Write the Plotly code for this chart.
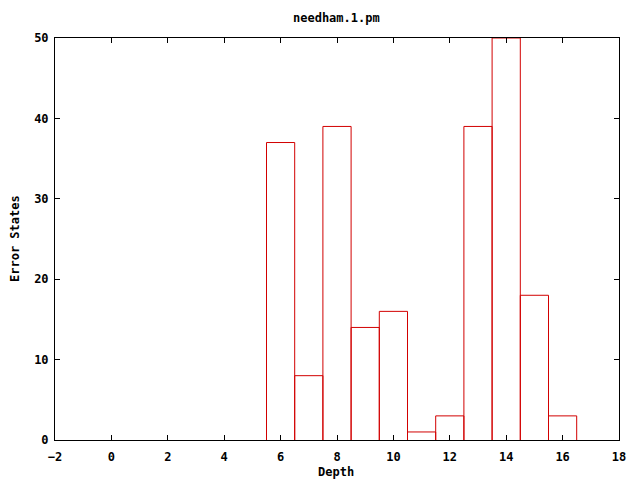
import plotly.graph_objects as go

depth = [6, 7, 8, 9, 10, 11, 12, 13, 14, 15, 16]
error_states = [37, 8, 39, 14, 16, 1, 3, 39, 50, 18, 3]
box_width = 1.0

title_text = "needham.1.pm"
x_label = "Depth"
y_label = "Error States"

font_family = "DejaVu Sans Mono"
red = "rgb(210,0,0)"

# the page body has an 8px margin; compensate so the plot lands where the reference has it
W, H = 632, 472
L, R, T, B = 47, 21, 30, 40
pw, ph = W - L - R, H - T - B

# box outlines (gnuplot "with boxes" style), built from the data
bx, by = [], []
for d, v in zip(depth, error_states):
    x0, x1 = d - box_width / 2, d + box_width / 2
    bx += [x0, x0, x1, x1, None]
    by += [0, v, v, 0, None]

fig = go.Figure()
fig.add_trace(go.Scatter(
    x=bx, y=by, mode="lines", line=dict(color=red, width=1),
    hoverinfo="skip", cliponaxis=True,
))

axis_common = dict(
    showline=True, linecolor="black", linewidth=1, mirror="ticks",
    ticks="inside", ticklen=5, tickcolor="black", tickwidth=1,
    showgrid=False, zeroline=False, automargin=False, layer="above traces",
    tickfont=dict(family=font_family, size=12, color="black", weight="bold"),
)

fig.update_layout(
    width=W, height=H,
    paper_bgcolor="white", plot_bgcolor="white",
    margin=dict(l=L, r=R, t=T, b=B, autoexpand=False),
    showlegend=False,
    font=dict(family=font_family, size=12, color="black"),
    xaxis=dict(range=[-2, 18], tick0=-2, dtick=2, ticklabelstandoff=6, **axis_common),
    yaxis=dict(range=[0, 50], tick0=0, dtick=10, ticklabelstandoff=3, **axis_common),
)

def px_x(x):
    return (x - 8 - L) / pw

def px_y(y):
    return (H - B - (y - 8)) / ph

fig.add_annotation(text="<b>" + title_text + "</b>", xref="paper", yref="paper",
                   x=px_x(336), y=px_y(18), xanchor="center", yanchor="middle",
                   showarrow=False, font=dict(family=font_family, size=12))
fig.add_annotation(text="<b>" + x_label + "</b>", xref="paper", yref="paper",
                   x=px_x(336), y=px_y(472), xanchor="center", yanchor="middle",
                   showarrow=False, font=dict(family=font_family, size=12))
fig.add_annotation(text="<b>" + y_label + "</b>", xref="paper", yref="paper",
                   x=px_x(15), y=px_y(239), xanchor="center", yanchor="middle",
                   textangle=-90, showarrow=False, font=dict(family=font_family, size=12))

fig.write_html("out.html")
